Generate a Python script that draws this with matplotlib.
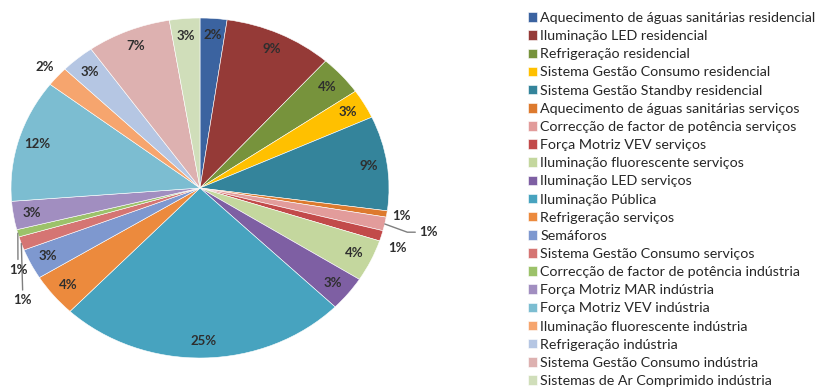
import numpy as np
import matplotlib
matplotlib.use("Agg")
import matplotlib.pyplot as plt

plt.rcParams["font.family"] = ["Lato", "DejaVu Sans"]

categories = [
    "Aquecimento de águas sanitárias residencial",
    "Iluminação LED residencial",
    "Refrigeração residencial",
    "Sistema Gestão Consumo residencial",
    "Sistema Gestão Standby residencial",
    "Aquecimento de águas sanitárias serviços",
    "Correcção de factor de potência serviços",
    "Força Motriz VEV serviços",
    "Iluminação fluorescente serviços",
    "Iluminação LED serviços",
    "Iluminação Pública",
    "Refrigeração serviços",
    "Semáforos",
    "Sistema Gestão Consumo serviços",
    "Correcção de factor de potência indústria",
    "Força Motriz MAR indústria",
    "Força Motriz VEV indústria",
    "Iluminação fluorescente indústria",
    "Refrigeração indústria",
    "Sistema Gestão Consumo indústria",
    "Sistemas de Ar Comprimido indústria",
]

shares = [2.3, 9.3, 3.8, 2.8, 9.0, 0.6, 1.3, 1.0, 4.0, 3.3, 24.8,
          4.1, 2.9, 1.3, 0.7, 2.7, 11.7, 1.9, 2.9, 7.2, 2.6]

colors = [
    "#3B63A0", "#953A37", "#77933C", "#FFC000", "#34849B", "#DD7A2E",
    "#E29C9B", "#C24A4A", "#C4D79E", "#7E5FA3", "#47A3BF", "#EC8A3D",
    "#7E98CF", "#D57573", "#9CC26A", "#A18EC0", "#7CBDD1", "#F6A56E",
    "#B5C6E3", "#DDB1B0", "#D0DEBA",
]

fig = plt.figure(figsize=(8.21, 3.89), dpi=100)
W, H = 821, 389
cx, cy, rx, ry = 200, 188, 189, 170

# axes spanning the left part; limits chosen so the unit pie is stretched
ax = fig.add_axes([0, 0, 420 / W, 1])
wedges, _ = ax.pie(shares, colors=colors, startangle=90, counterclock=False,
                   wedgeprops=dict(edgecolor="white", linewidth=0.4))
ax.set_aspect("auto")
ax.set_xlim(-cx / rx, (420 - cx) / rx)
ax.set_ylim(-(H - cy) / ry, cy / ry)
ax.axis("off")

total = sum(shares)
pct = [f"{100 * v / total:.0f}%" for v in shares]

label_kw = dict(fontsize=9.5, fontweight="bold", color="#2E2E2E",
                ha="center", va="center")


def mid_angle(w):
    return np.deg2rad((w.theta1 + w.theta2) / 2)


# labels drawn outside the pie (radius) or with leader lines (text position)
outside_r = {5: 1.08, 17: 1.09}
offset_text = {7: (1.042, -0.353)}
leader = {
    6: dict(text=(1.21, -0.26), cs="angle,angleA=0,angleB=-20"),
    14: dict(text=(-0.963, -0.48), cs="arc3"),
    13: dict(text=(-0.937, -0.66), cs="arc3"),
}

for i, w in enumerate(wedges):
    a = mid_angle(w)
    if i in leader:
        spec = leader[i]
        ax.annotate(pct[i], xy=(np.cos(a), np.sin(a)), xytext=spec["text"],
                    arrowprops=dict(arrowstyle="-", color="#7F7F7F", lw=1.0,
                                    shrinkA=1, shrinkB=0,
                                    connectionstyle=spec["cs"]),
                    annotation_clip=False, **label_kw)
    elif i in offset_text:
        ax.text(*offset_text[i], pct[i], **label_kw)
    else:
        r = outside_r.get(i, 0.9)
        ax.text(r * np.cos(a), r * np.sin(a), pct[i], **label_kw)

leg = fig.legend(wedges, categories, loc="upper left",
                 bbox_to_anchor=(528 / W, 1 - 12 / H), frameon=False,
                 fontsize=10.3, handlelength=0.65, handleheight=0.65,
                 handletextpad=0.2, labelspacing=0.43,
                 borderpad=0, borderaxespad=0)
for t in leg.get_texts():
    t.set_color("#262626")

fig.savefig("out.png", dpi=100)
